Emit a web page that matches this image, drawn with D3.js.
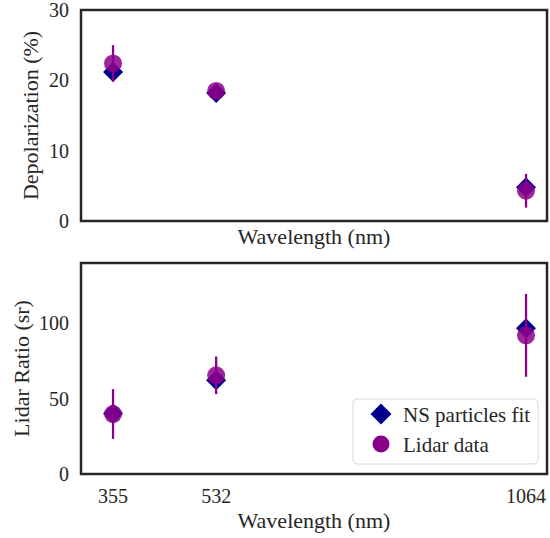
<!DOCTYPE html>
<html>
<head>
<meta charset="utf-8">
<script src="https://cdn.jsdelivr.net/npm/d3@7"></script>
<style>
  body { margin: 0; background: #fff; }
</style>
</head>
<body>
<script>
// wavelengths (nm)
const wavelengths = [355, 532, 1064]
// depolarization (%)
const depolFit = [21.2, 18.2, 4.8]
const depolLidar = [22.4, 18.5, 4.3]
const depolErr = [2.6, 0.6, 2.4]
// lidar ratio (sr)
const lrFit = [40.2, 62.2, 96.7]
const lrLidar = [39.8, 65.5, 92]
const lrErr = [16.5, 12.5, 27.5]

const depolTicks = [0, 10, 20, 30]
const lrTicks = [0, 50, 100]

const width = 550, height = 538
const fitColor = "#00008b"
const lidarColor = "#8b008b"
const font = "'Liberation Serif', 'Times New Roman', serif"

const svg = d3.select("body").append("svg")
    .attr("width", width)
    .attr("height", height)
    .style("font-family", font)

const x = d3.scaleLinear().domain([300, 1100]).range([81, 547])

function panel(top, bottom, yDomain, ticks, fit, lidar, err, ylabel, labelX, showXTicks) {
    const y = d3.scaleLinear().domain(yDomain).range([bottom, top])
    const g = svg.append("g").attr("fill", "#262626")

    // y tick labels
    g.selectAll(".yt").data(ticks).enter().append("text")
        .attr("x", 69)
        .attr("y", d => y(d) + 7)
        .attr("text-anchor", "end")
        .attr("font-size", 20)
        .text(d => d)

    if (showXTicks) {
        g.selectAll(".xt").data(wavelengths).enter().append("text")
            .attr("x", d => x(d))
            .attr("y", bottom + 29)
            .attr("text-anchor", "middle")
            .attr("font-size", 20)
            .text(d => d)
    }

    // y label
    g.append("text")
        .attr("transform", `translate(${labelX},${(top + bottom) / 2}) rotate(-90)`)
        .attr("text-anchor", "middle")
        .attr("font-size", 22)
        .text(ylabel)

    // x label
    g.append("text")
        .attr("x", (x.range()[0] + x.range()[1]) / 2)
        .attr("y", showXTicks ? bottom + 54 : bottom + 23)
        .attr("text-anchor", "middle")
        .attr("font-size", 22)
        .text("Wavelength (nm)")

    const diamond = d3.symbol().type(d3.symbolSquare).size(200)

    // fit markers
    g.selectAll(".fit").data(wavelengths).enter().append("path")
        .attr("d", diamond)
        .attr("transform", (d, i) => `translate(${x(d)},${y(fit[i])}) rotate(45)`)
        .attr("fill", fitColor)

    // error bars
    g.selectAll(".err").data(wavelengths).enter().append("line")
        .attr("x1", d => x(d))
        .attr("x2", d => x(d))
        .attr("y1", (d, i) => y(lidar[i] - err[i]))
        .attr("y2", (d, i) => y(lidar[i] + err[i]))
        .attr("stroke", lidarColor)
        .attr("stroke-width", 2.3)

    // lidar markers
    g.selectAll(".lid").data(wavelengths).enter().append("circle")
        .attr("cx", d => x(d))
        .attr("cy", (d, i) => y(lidar[i]))
        .attr("r", 9)
        .attr("fill", lidarColor)
        .attr("opacity", 0.85)

    // frame
    g.append("rect")
        .attr("x", x.range()[0])
        .attr("y", top)
        .attr("width", x.range()[1] - x.range()[0])
        .attr("height", bottom - top)
        .attr("fill", "none")
        .attr("stroke", "#262626")
        .attr("stroke-width", 2.5)

    return g
}

panel(10, 221, [0, 30], depolTicks, depolFit, depolLidar, depolErr, "Depolarization (%)", 38, false)
const bottomPanel = panel(263, 474, [0, 140], lrTicks, lrFit, lrLidar, lrErr, "Lidar Ratio (sr)", 29, true)

// legend
const legend = bottomPanel.append("g")
legend.append("rect")
    .attr("x", 353).attr("y", 399)
    .attr("width", 185).attr("height", 65)
    .attr("rx", 4)
    .attr("fill", "#fff").attr("fill-opacity", 0.8)
    .attr("stroke", "#d8d8d8")
legend.append("path")
    .attr("d", d3.symbol().type(d3.symbolSquare).size(220))
    .attr("transform", "translate(381,414) rotate(45)")
    .attr("fill", fitColor)
legend.append("circle")
    .attr("cx", 381).attr("cy", 444).attr("r", 8.5)
    .attr("fill", lidarColor)
legend.append("text")
    .attr("x", 403).attr("y", 422)
    .attr("font-size", 21)
    .text("NS particles fit")
legend.append("text")
    .attr("x", 403).attr("y", 452)
    .attr("font-size", 21)
    .text("Lidar data")
</script>
</body>
</html>
